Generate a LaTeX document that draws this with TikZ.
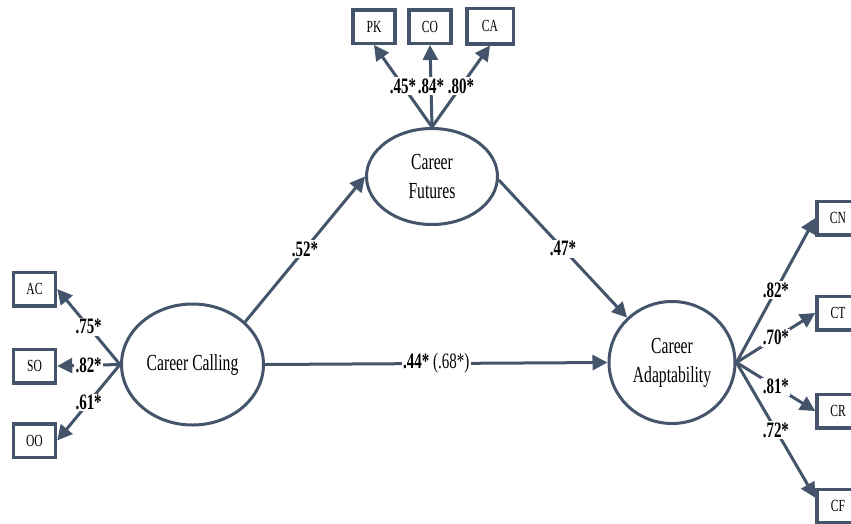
\documentclass[tikz,border=0pt]{standalone}
\usepackage{fontspec}
\setmainfont{Liberation Serif}[FakeStretch=0.68]
\usepackage{tikz}
\usetikzlibrary{shapes,arrows.meta}
\definecolor{semblue}{RGB}{68,84,106}
\tikzset{every edge/.style={draw,
		-{Triangle[length=15pt,width=15pt]},line width=3pt,semblue}}
\tikzstyle{latent}=[ellipse,draw=semblue,line width=3pt,inner sep=0pt,align=center,text=black,font=\fontsize{23}{29}\selectfont]
\tikzstyle{indicator}=[rectangle,draw=semblue,line width=3.5pt,inner sep=0pt,minimum width=42pt,minimum height=33.5pt,text=black,font=\fontsize{17}{19}\selectfont]
\tikzstyle{coef}=[fill=white,text=black,inner sep=1.5pt,font=\bfseries\fontsize{22}{24}\selectfont]

\begin{document}
\begin{tikzpicture}[x=1pt,y=-1pt]
		\useasboundingbox (0,0) rectangle (851,523);
		\node at (192.5,364.5) [latent,minimum width=142pt,minimum height=121pt] (call) {Career Calling};
		\node at (432,176.5) [latent,minimum width=131pt,minimum height=96pt] (fut) {Career\\Futures};
		\node at (672,362.5) [latent,minimum width=126pt,minimum height=122pt] (adapt) {Career\\Adaptability};
		\node at (374,26.5) [indicator] (pk) {PK};
		\node at (430,26.5) [indicator] (co) {CO};
		\node at (490,26) [indicator,minimum width=46.5pt,minimum height=35.5pt] (ca) {CA};
		\node at (34.5,289) [indicator] (ac) {AC};
		\node at (34.5,366) [indicator] (so) {SO};
		\node at (34.5,440.5) [indicator] (oo) {OO};
		\node at (838,218) [indicator] (cn) {CN};
		\node at (838,313) [indicator] (ct) {CT};
		\node at (838,411) [indicator] (cr) {CR};
		\node at (838,506) [indicator] (cf) {CF};
		% structural paths
		\draw (call.39) edge node[coef] {.52*} (fut.west);
		\draw (fut.-3) edge node[coef] {.47*} (adapt.135);
		\draw (call.east) edge node[coef] {.44* \mdseries(.68*)} (adapt.west);
		% loadings
		\draw (fut.north) edge node[coef] {.45*} (pk.south);
		\draw (fut.north) edge node[coef] {.84*} (co.south);
		\draw (fut.north) edge node[coef] {.80*} (ca.south);
		\draw (call.west) edge node[coef] {.75*} (ac.east);
		\draw (call.west) edge node[coef] {.82*} (so.east);
		\draw (call.west) edge node[coef] {.61*} (oo.east);
		\draw (adapt.east) edge node[coef] {.82*} (cn.west);
		\draw (adapt.east) edge node[coef] {.70*} (ct.west);
		\draw (adapt.east) edge node[coef] {.81*} (cr.west);
		\draw (adapt.east) edge node[coef] {.72*} (cf.160);
\end{tikzpicture}
\end{document}
